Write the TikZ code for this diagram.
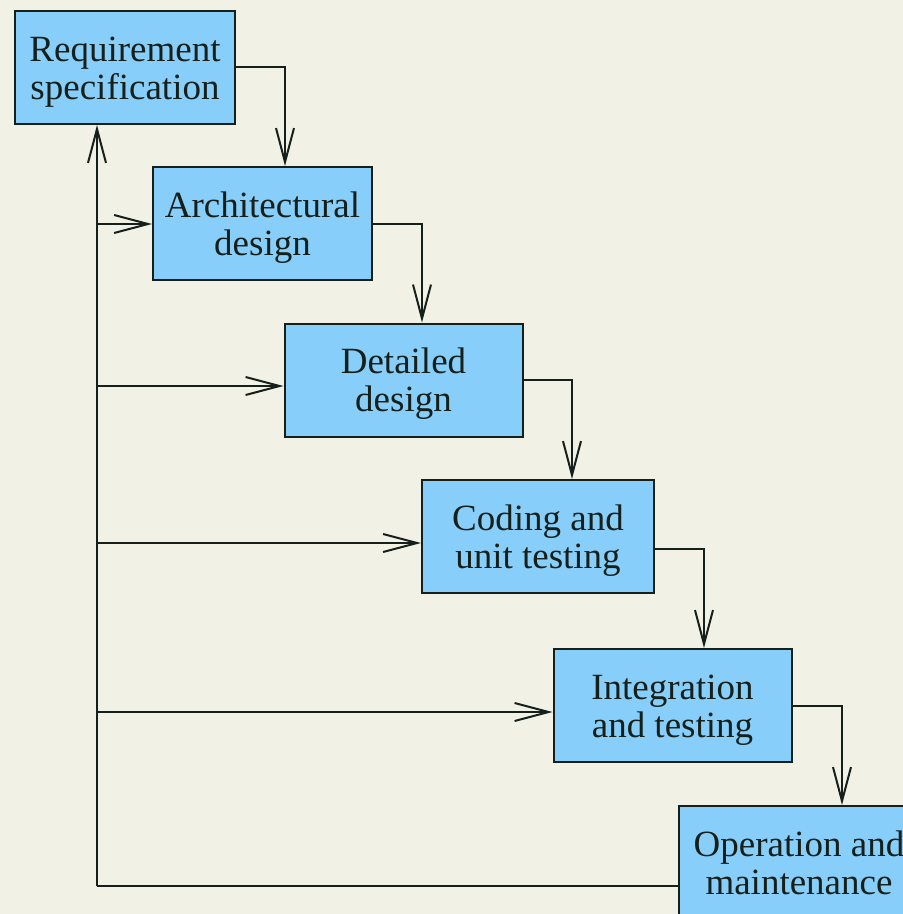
\documentclass[tikz,border=0pt]{standalone}
\usepackage{fontspec}
\setmainfont{Liberation Serif}
\usetikzlibrary{arrows.meta}
\definecolor{paper}{HTML}{F1F1E6}
\definecolor{boxfill}{HTML}{87CEFA}
\definecolor{ink}{HTML}{16201A}
% two centred lines, set a little below the box centre
\newcommand{\phasetext}[1]{\raisebox{-5pt}[\height][\depth]{\begin{tabular}{@{}c@{}}#1\end{tabular}}}
\begin{document}
\begin{tikzpicture}[x=1pt,y=-1pt,
  phase/.style={draw=ink,fill=boxfill,line width=2pt,minimum height=113pt,
    inner sep=0pt,text=ink,
    font=\fontsize{37}{38}\selectfont},
  flow/.style={draw=ink,line width=2pt,
    -{Straight Barb[length=34pt,width=18pt,line width=2pt]}},
  plain/.style={draw=ink,line width=2pt}]
\clip (0,0) rectangle (903,914);
\fill[paper] (0,0) rectangle (903,914);

% the six phases
\node[phase,minimum width=220pt] (req) at (125,67.5) {\phasetext{Requirement\\specification}};
\node[phase,minimum width=219pt] (arch) at (262.5,223.5) {\phasetext{Architectural\\design}};
\node[phase,minimum width=238pt] (det) at (403.5,380) {\phasetext{Detailed\\design}};
\node[phase,minimum width=232pt] (code) at (538,536.5) {\phasetext{Coding and\\unit testing}};
\node[phase,minimum width=238pt] (integ) at (672.5,705.5) {\phasetext{Integration\\and testing}};
\node[phase,minimum width=240pt,minimum height=114pt] (oper) at (799,863) {\phasetext{Operation and\\maintenance}};

% forward flow down the cascade
\coordinate (r1) at (285,67);
\coordinate (r2) at (422,224);
\coordinate (r3) at (572,380);
\coordinate (r4) at (704,549);
\coordinate (r5) at (842,706);
\draw[flow] (req.east |- r1) -| (arch.north -| r1);
\draw[flow] (arch.east |- r2) -| (det.north -| r2);
\draw[flow] (det.east |- r3) -| (code.north -| r3);
\draw[flow] (code.east |- r4) -| (integ.north -| r4);
\draw[flow] (integ.east |- r5) -| (oper.north -| r5);

% feedback trunk on the left
\coordinate (fb) at (97,886);
\coordinate (t2) at (97,224);
\coordinate (t3) at (97,386);
\coordinate (t4) at (97,543);
\coordinate (t5) at (97,712);
\draw[plain] (oper.west |- fb) -- (fb);
\draw[flow] (fb) -- (req.south -| fb);
\draw[flow] (t2) -- (arch.west |- t2);
\draw[flow] (t3) -- (det.west |- t3);
\draw[flow] (t4) -- (code.west |- t4);
\draw[flow] (t5) -- (integ.west |- t5);
\end{tikzpicture}
\end{document}
